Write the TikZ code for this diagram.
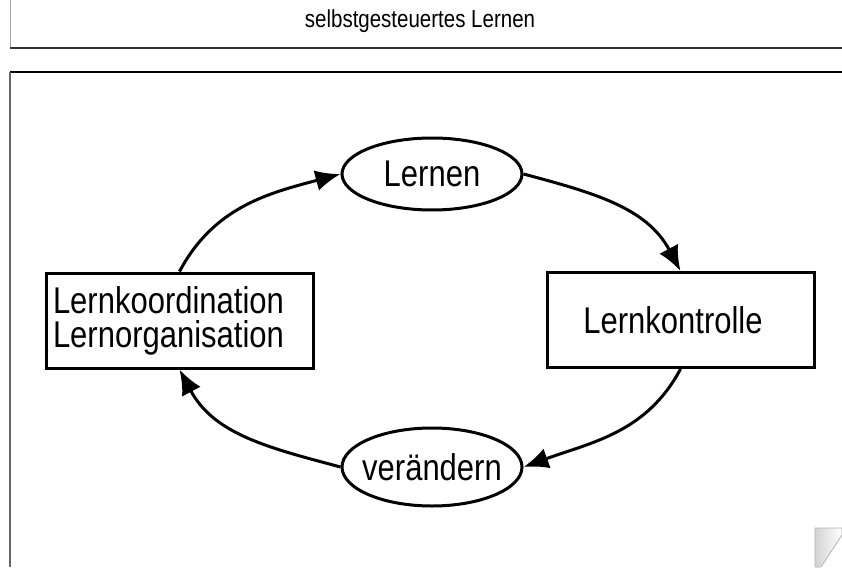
\documentclass[tikz,border=0pt]{standalone}
\usepackage{fontspec}
\setmainfont{Liberation Sans}
\usetikzlibrary{arrows.meta,shapes.geometric,positioning}

\newcommand{\hoch}[1]{\scalebox{1}[1.2]{#1}}

\tikzset{
  kasten/.style={draw, line width=3pt, minimum width=267pt, minimum height=95pt,
    inner sep=7pt, font=\fontsize{31}{34}\selectfont},
  oval/.style={ellipse, draw, line width=3pt, minimum width=180pt, inner sep=0pt,
    font=\fontsize{31}{34}\selectfont},
  pfeil/.style={line width=3pt, ->, >={Latex[length=25pt,width=21pt]}},
}

\begin{document}
\begin{tikzpicture}[x=1pt,y=-1pt]
\useasboundingbox (0,0) rectangle (842,567);
% Kopfzeile
\node (titel) at (420,21) {\fontsize{20.5}{22}\selectfont\hoch{selbstgesteuertes Lernen}};
\draw[gray!70, line width=1pt] (10,0) -- (10,48);
\draw[black!80, line width=1.5pt] (10,48) -- (842,48);
\draw[black, line width=2pt] (10,72) -- (842,72);
\draw[gray!80!black, line width=2pt] (10,72) -- (10,567);

% Kreislauf
\node[oval, minimum height=72pt] (lernen) at (432,174) {\makebox[0pt]{\hoch{Lernen}}};
\node[kasten] (kontrolle) at (680.5,320) {\hoch{Lernkontrolle}\hspace*{15pt}};
\node[oval, minimum height=78pt] (veraendern) at (432,467) {\makebox[0pt]{\hoch{verändern}}};
\node[kasten, text width=253pt, align=left] (koord) at (179.5,320.5)
  {\hoch{Lernkoordination}\\\hoch{Lernorganisation}};

\draw[pfeil] (koord.north) to[out=62,in=195] (lernen.west);
\draw[pfeil] (lernen.east) to[out=-15,in=118] (kontrolle.north);
\draw[pfeil] (kontrolle.south) to[out=-118,in=20] (veraendern.east);
\draw[pfeil] (veraendern.west) to[out=165,in=-62] (koord.south);

% Eselsohr unten rechts
\shade[left color=gray!35, right color=white, draw=gray!60, line width=0.8pt]
  (815,528) -- (842,528) -- (842,535) -- (821,567) -- (815,567) -- cycle;
\end{tikzpicture}
\end{document}
